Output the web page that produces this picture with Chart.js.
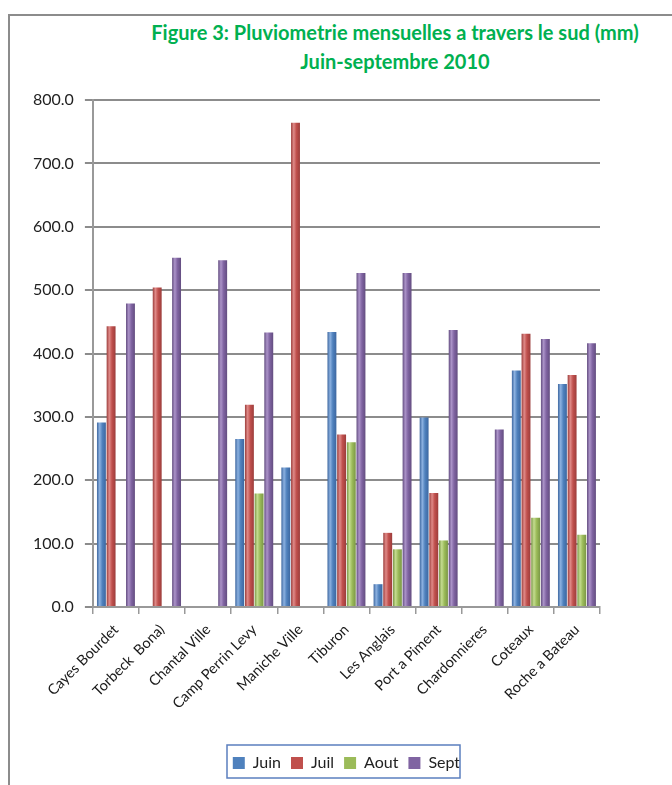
<!DOCTYPE html>
<html>
<head>
<meta charset="utf-8">
<script src="https://cdn.jsdelivr.net/npm/chart.js@4.4.1/dist/chart.umd.min.js"></script>
<style>
  body { margin: 0; background: #fff; }
  #wrap { position: relative; width: 672px; height: 785px; overflow: hidden; }
  #frame { position: absolute; left: 8px; top: 14px; right: -5px; bottom: -5px; border-left: 2px solid #8c8c8c; border-top: 2px solid #8c8c8c; }
  #title { position: absolute; left: 120px; width: 550px; top: 18px; text-align: center;
           font-family: Lato, "Open Sans", sans-serif; font-weight: bold; font-size: 20px;
           line-height: 29px; color: #00b050; }
  canvas { position: absolute; left: 0; top: 0; }
</style>
</head>
<body>
<div id="wrap">
  <div id="frame"></div>
  <div id="title">Figure 3: Pluviometrie mensuelles a travers le sud (mm)<br>Juin-septembre 2010</div>
  <canvas id="chart" width="672" height="785"></canvas>
</div>
<script>
const stations = ['Cayes Bourdet', 'Torbeck  Bona)', 'Chantal Ville', 'Camp Perrin Levy', 'Maniche Ville',
  'Tiburon', 'Les Anglais', 'Port a Piment', 'Chardonnieres', 'Coteaux', 'Roche a Bateau'];

const juin = [291, null, null, 265, 220, 434, 36, 299, null, 373, 352];
const juil = [443, 504, null, 319, 764, 272, 117, 180, null, 431, 366];
const aout = [null, null, null, 179, null, 260, 91, 105, null, 141, 114];
const sept = [479, 551, 547, 433, null, 527, 527, 437, 280, 423, 416];

const yTicks = [0, 100, 200, 300, 400, 500, 600, 700, 800];

const font = 'Lato, "Open Sans", sans-serif';

// base / dark / light shades for the cylinder look
const shades = [
  ['#4f81bd', '#3d67a0', '#8cb1e0'],
  ['#c0504d', '#9c3d3b', '#df8a88'],
  ['#9bbb59', '#7a9646', '#c4dc90'],
  ['#8064a2', '#634d80', '#ab93c8']
];

const cylinders = {
  id: 'cylinders',
  beforeDatasetsDraw(chart) {
    const c = chart.ctx;
    chart.data.datasets.forEach((ds, i) => {
      const [base, dark, light] = shades[i];
      chart.getDatasetMeta(i).data.forEach(el => {
        const x0 = el.x - el.width / 2, x1 = el.x + el.width / 2;
        if (!isFinite(x0) || !isFinite(x1)) return;
        const g = c.createLinearGradient(x0, 0, x1, 0);
        g.addColorStop(0, dark);
        g.addColorStop(0.3, light);
        g.addColorStop(0.6, base);
        g.addColorStop(1, dark);
        el.options = Object.assign({}, el.options, { backgroundColor: g });
      });
    });
  }
};

const legendBox = {
  id: 'legendBox',
  afterDraw(chart) {
    const c = chart.ctx;
    c.save();
    c.strokeStyle = '#5b7fbf';
    c.lineWidth = 1.5;
    c.strokeRect(227, 745, 233, 33);
    c.restore();
  }
};

new Chart(document.getElementById('chart'), {
  type: 'bar',
  data: {
    labels: stations,
    datasets: [
      { label: 'Juin', data: juin, backgroundColor: () => shades[0][0] },
      { label: 'Juil', data: juil, backgroundColor: () => shades[1][0] },
      { label: 'Aout', data: aout, backgroundColor: () => shades[2][0] },
      { label: 'Sept', data: sept, backgroundColor: () => shades[3][0] }
    ]
  },
  options: {
    responsive: false,
    animation: false,
    layout: { padding: { top: 100, left: 22, right: 72, bottom: 4 } },
    datasets: { bar: { categoryPercentage: 0.84, barPercentage: 0.92, skipNull: false } },
    scales: {
      x: {
        grid: { display: true, drawOnChartArea: false, drawTicks: true, tickLength: 7, offset: true, color: '#999', lineWidth: 1.5 },
        border: { color: '#999', width: 2 },
        ticks: { color: '#1a1a1a', font: { family: font, size: 14.5 }, minRotation: 45, maxRotation: 45, padding: 7 },
        afterFit: (s) => { s.height = 138; }
      },
      y: {
        min: 0, max: 800,
        afterBuildTicks: (axis) => { axis.ticks = yTicks.map(v => ({ value: v })); },
        grid: { color: '#8c8c8c', lineWidth: 2, tickLength: 8 },
        border: { color: '#999', width: 2 },
        ticks: { color: '#222', font: { family: font, size: 16 }, padding: 11,
                 callback: (v) => Number(v).toFixed(1) }
      }
    },
    plugins: {
      title: { display: false },
      tooltip: { enabled: false },
      legend: {
        position: 'bottom',
        fullSize: false,
        labels: { boxWidth: 12, boxHeight: 12, color: '#222', font: { family: font, size: 16 }, padding: 10 }
      }
    }
  },
  plugins: [cylinders, legendBox]
});
</script>
</body>
</html>
